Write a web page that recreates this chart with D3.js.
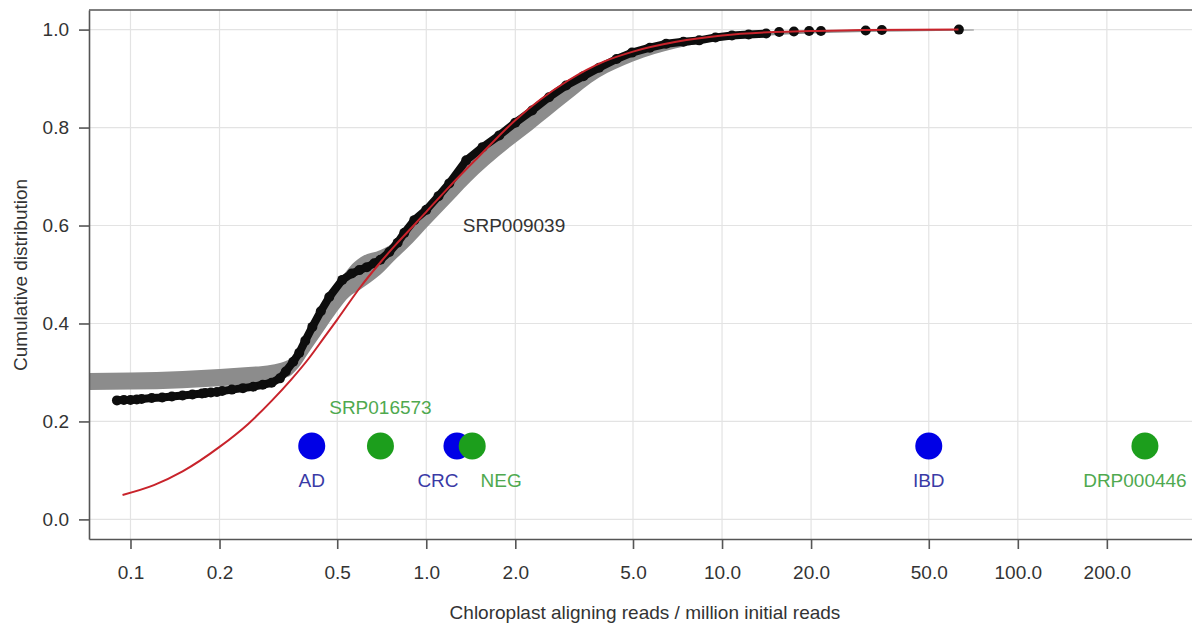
<!doctype html>
<html>
  <head>
    <title>Chloroplast reads ECDF</title>
    <script src="https://d3js.org/d3.v7.min.js"></script>
    <style>
      body { margin: 0; background: #fff; }
      svg text { font-family: "Liberation Sans", Arial, sans-serif; }
      .grid line { stroke: #e3e3e3; stroke-width: 1.2; }
      .axis path, .axis line { stroke: #555; stroke-width: 1.6; }
      .axis text { fill: #333; font-size: 19px; }
      path.band { fill: #8c8c8c; stroke: none; }
      path.ecdf { fill: none; stroke: #0d0d0d; stroke-width: 8; stroke-linecap: round; stroke-linejoin: round; }
      circle.ecdf { fill: #0d0d0d; }
      path.fit { fill: none; stroke: #c8232b; stroke-width: 2; }
    </style>
  </head>
  <body>
    <svg width="1192" height="625"></svg>
    <script>
      // axis ticks
      var xTicks = [0.1, 0.2, 0.5, 1, 2, 5, 10, 20, 50, 100, 200];
      var xTickLabels = ["0.1", "0.2", "0.5", "1.0", "2.0", "5.0", "10.0", "20.0", "50.0", "100.0", "200.0"];
      var yTicks = [0, 0.2, 0.4, 0.6, 0.8, 1.0];

      // empirical cdf of SRP009039 (null = gap between dashes)
      var ecdfX = [0.090, 0.095, 0.100, 0.105, null,
                   0.109, 0.118, 0.128, 0.138, 0.150, 0.162, 0.1745, null,
                   0.179, 0.187, 0.196, null,
                   0.204, 0.22, 0.24, 0.26, 0.28, 0.30, 0.32, 0.335, 0.355, 0.372, 0.39, 0.412,
                   0.44, 0.47, 0.52, 0.56, 0.594, 0.63, 0.667, 0.70, 0.75, 0.80, 0.843, 0.911,
                   1.0, 1.1, 1.196, 1.365, 1.55, 1.765, 2.0, 2.28, 2.6, 2.97, 3.4, 3.84, 4.4,
                   4.96, 5.7, 6.47, 7.4, 8.37, 9.5, 10.8, 12.3, 14.1];
      var ecdfY = [0.243, 0.244, 0.244, 0.245, null,
                   0.246, 0.248, 0.249, 0.251, 0.253, 0.255, 0.257, null,
                   0.258, 0.259, 0.260, null,
                   0.262, 0.265, 0.268, 0.271, 0.275, 0.279, 0.288, 0.302, 0.322, 0.340, 0.365, 0.393,
                   0.425, 0.454, 0.489, 0.502, 0.509, 0.515, 0.523, 0.530, 0.546, 0.565, 0.585, 0.611,
                   0.632, 0.660, 0.686, 0.733, 0.760, 0.784, 0.810, 0.835, 0.862, 0.886, 0.905, 0.922, 0.940,
                   0.953, 0.963, 0.971, 0.975, 0.978, 0.984, 0.988, 0.990, 0.992];
      // sparse upper tail
      var tailX = [15.6, 17.5, 19.7, 21.6, 30.6, 34.7, 63.2];
      var tailY = [0.995, 0.996, 0.997, 0.997, 0.998, 0.999, 1.0];

      // fitted curve (red)
      var fitX = [0.094, 0.12, 0.15, 0.2, 0.25, 0.3, 0.35, 0.4, 0.45, 0.5, 0.6, 0.7, 0.8, 0.9, 1.0,
                  1.2, 1.5, 2.0, 3.0, 4.0, 5.0, 7.0, 10, 15, 20, 30, 63];
      var fitY = [0.050, 0.070, 0.098, 0.148, 0.195, 0.242, 0.286, 0.328, 0.370, 0.408, 0.475, 0.525,
                  0.565, 0.598, 0.628, 0.680, 0.740, 0.815, 0.895, 0.935, 0.955, 0.975, 0.988, 0.995,
                  0.997, 0.999, 1.0];

      // grey envelope
      var bandX = [0.07, 0.1, 0.15, 0.2, 0.25, 0.3, 0.33, 0.35, 0.37, 0.40, 0.45, 0.5, 0.55, 0.6, 0.7,
                   0.8, 0.9, 1.0, 1.2, 1.5, 1.76, 2.28, 3.0, 3.84, 5.0, 7.0, 10, 20, 40, 71];
      var bandLo = [0.264, 0.265, 0.268, 0.272, 0.276, 0.282, 0.288, 0.295, 0.31, 0.34, 0.385, 0.425, 0.455,
                    0.47, 0.50, 0.535, 0.565, 0.595, 0.645, 0.705, 0.742, 0.795, 0.853, 0.902, 0.935, 0.962, 0.979,
                    0.992, 0.996, 0.998];
      var bandHi = [0.299, 0.300, 0.303, 0.307, 0.311, 0.316, 0.322, 0.33, 0.35, 0.39, 0.44, 0.48, 0.515,
                    0.535, 0.55, 0.57, 0.60, 0.632, 0.685, 0.745, 0.782, 0.835, 0.885, 0.92, 0.953, 0.972,
                    0.988, 0.997, 1.0, 1.0];

      // single-sample studies
      var groups = ["AD", "SRP016573", "CRC", "NEG", "IBD", "DRP000446"];
      var groupValue = [0.41, 0.70, 1.27, 1.43, 50, 269];
      var groupLevel = [0.15, 0.15, 0.15, 0.15, 0.15, 0.15];
      var groupKind = ["case", "control", "case", "control", "case", "control"];
      var studyLabel = "SRP009039";

      var kindColor = { case: "#0000e6", control: "#1c9e1c" };
      var kindText = { case: "#3a3aa6", control: "#4fa94f" };
      // label offset from its dot, in px
      var labelNudge = { AD: [0, 35], SRP016573: [0, -38], CRC: [-19, 35], NEG: [29, 35], IBD: [0, 35], DRP000446: [-10, 35] };

      var mLeft = 89, mRight = 1200, mTop = 10, mBottom = 539;
      var x = d3.scaleLog().domain([0.0724, 413]).range([mLeft, mRight]);
      var y = d3.scaleLinear().domain([-0.04, 1.04]).range([mBottom, mTop]);

      var svg = d3.select("svg");
      svg.append("clipPath").attr("id", "plot")
        .append("rect").attr("x", mLeft).attr("y", mTop).attr("width", mRight - mLeft).attr("height", mBottom - mTop);

      var grid = svg.append("g").attr("class", "grid");
      grid.selectAll("line.v").data(xTicks).enter().append("line").attr("class", "v")
        .attr("x1", d => x(d)).attr("x2", d => x(d)).attr("y1", mTop).attr("y2", mBottom);
      grid.selectAll("line.h").data(yTicks).enter().append("line").attr("class", "h")
        .attr("x1", mLeft).attr("x2", mRight).attr("y1", d => y(d)).attr("y2", d => y(d));

      var plot = svg.append("g").attr("clip-path", "url(#plot)");

      var band = bandX.map((v, i) => [v, bandLo[i], bandHi[i]]);
      plot.append("path").attr("class", "band")
        .attr("d", d3.area().x(d => x(d[0])).y0(d => y(d[1])).y1(d => y(d[2])).curve(d3.curveMonotoneX)(band));

      var ecdf = ecdfX.map((v, i) => [v, ecdfY[i]]);
      plot.append("path").attr("class", "ecdf")
        .attr("d", d3.line().defined(d => d[0] != null).x(d => x(d[0])).y(d => y(d[1]))(ecdf));
      plot.selectAll("circle.ecdf").data(ecdf.filter(d => d[0] != null).concat(tailX.map((v, i) => [v, tailY[i]])))
        .enter().append("circle").attr("class", "ecdf")
        .attr("cx", d => x(d[0])).attr("cy", d => y(d[1])).attr("r", 5);

      var fit = fitX.map((v, i) => [v, fitY[i]]);
      plot.append("path").attr("class", "fit")
        .attr("d", d3.line().x(d => x(d[0])).y(d => y(d[1])).curve(d3.curveMonotoneX)(fit));

      plot.selectAll("circle.group").data(groups).enter().append("circle").attr("class", "group")
        .attr("cx", (d, i) => x(groupValue[i])).attr("cy", (d, i) => y(groupLevel[i]))
        .attr("r", 13.5).attr("fill", (d, i) => kindColor[groupKind[i]]);

      plot.selectAll("text.group").data(groups).enter().append("text").attr("class", "group")
        .attr("x", (d, i) => x(groupValue[i]) + labelNudge[d][0])
        .attr("y", (d, i) => y(groupLevel[i]) + labelNudge[d][1])
        .attr("text-anchor", "middle").attr("dominant-baseline", "central")
        .attr("font-size", 19).attr("fill", (d, i) => kindText[groupKind[i]])
        .text(d => d);

      plot.append("text").attr("x", x(1.98)).attr("y", y(0.6))
        .attr("text-anchor", "middle").attr("dominant-baseline", "central")
        .attr("font-size", 19).attr("fill", "#333").text(studyLabel);

      // axes
      svg.append("g").attr("class", "axis").attr("transform", "translate(0," + mBottom + ")")
        .call(d3.axisBottom(x).tickValues(xTicks).tickFormat((d, i) => xTickLabels[i]).tickSize(10).tickSizeOuter(0).tickPadding(17));
      svg.append("g").attr("class", "axis").attr("transform", "translate(" + mLeft + ",0)")
        .call(d3.axisLeft(y).tickValues(yTicks).tickFormat(d3.format(".1f")).tickSize(10).tickSizeOuter(0).tickPadding(10));
      svg.append("line").attr("x1", mLeft).attr("x2", mRight).attr("y1", mTop).attr("y2", mTop)
        .attr("stroke", "#555").attr("stroke-width", 1.6);

      svg.append("text").attr("x", 645).attr("y", 619).attr("text-anchor", "middle")
        .attr("font-size", 19).attr("fill", "#333").text("Chloroplast aligning reads / million initial reads");
      svg.append("text").attr("transform", "translate(20,275) rotate(-90)").attr("text-anchor", "middle")
        .attr("dominant-baseline", "central").attr("font-size", 19).attr("fill", "#333").text("Cumulative distribution");
    </script>
  </body>
</html>
